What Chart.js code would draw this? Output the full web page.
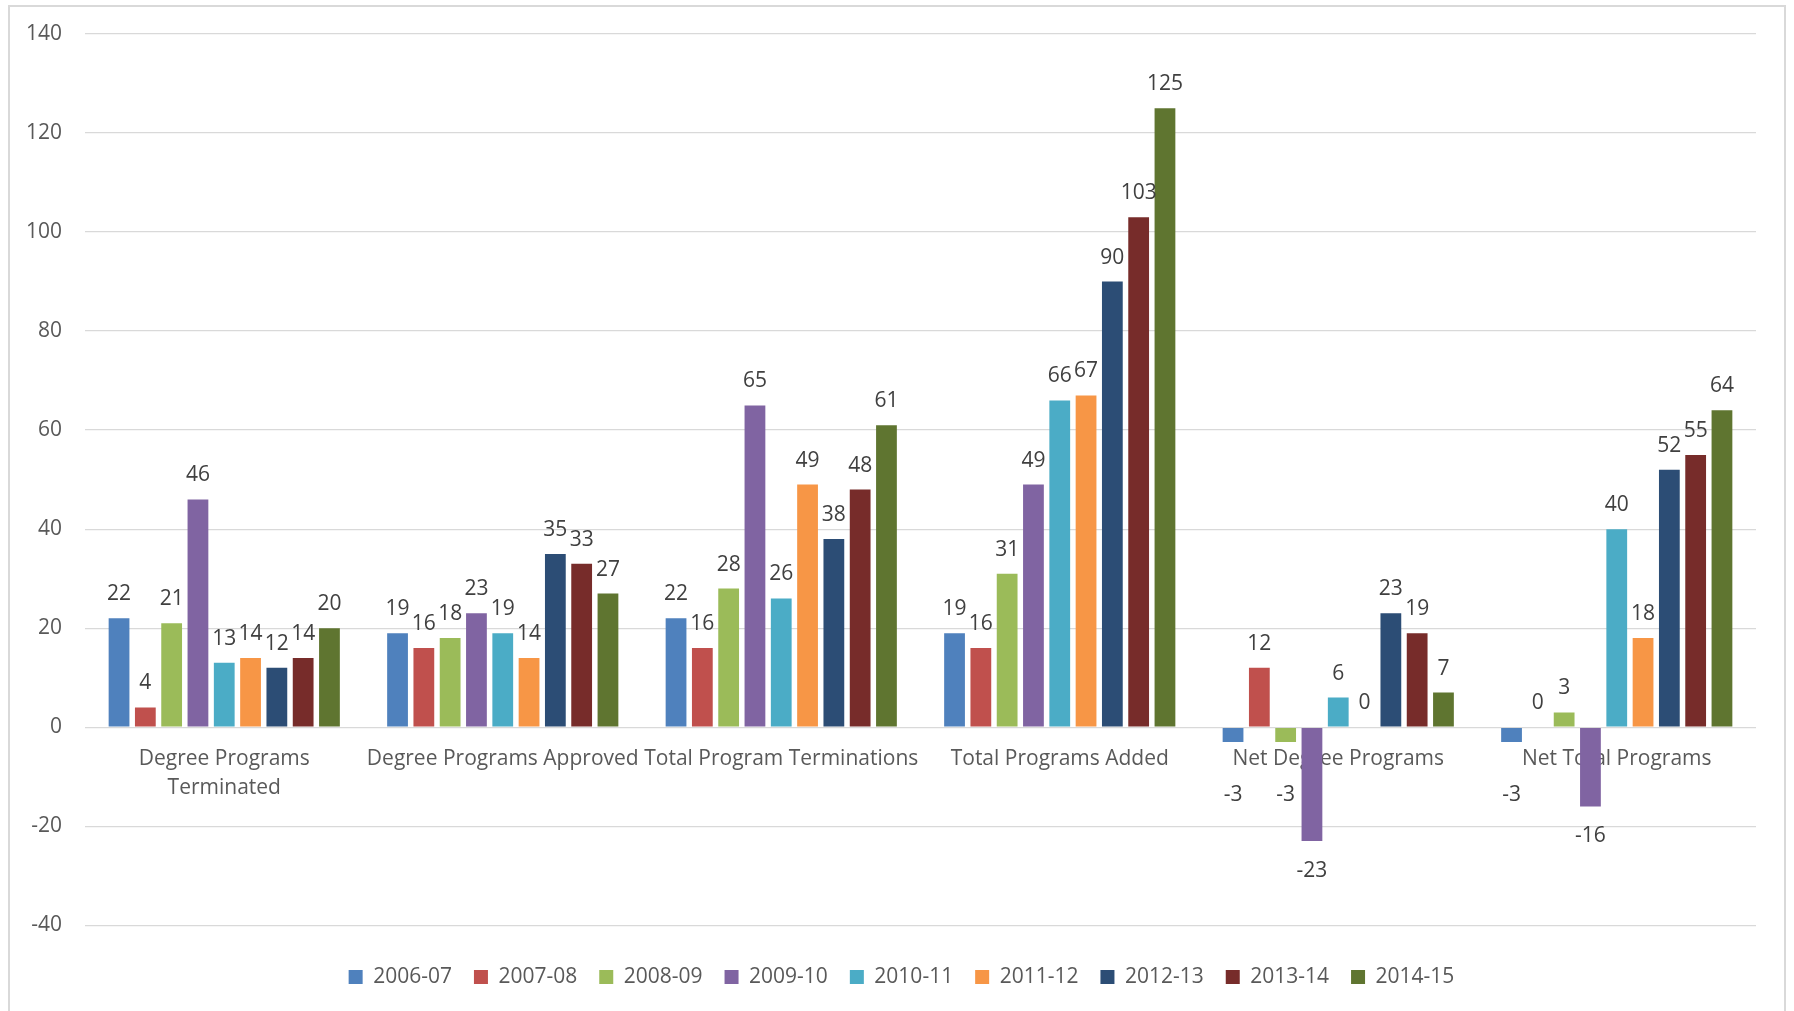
<!DOCTYPE html>
<html>
<head>
<meta charset="utf-8">
<script src="https://cdn.jsdelivr.net/npm/chart.js@4/dist/chart.umd.min.js"></script>
<style>
  html, body { margin: 0; padding: 0; background: #fff; }
  #wrap { position: relative; width: 1794px; height: 1011px; overflow: hidden; }
  #grafico { display: block; }
  /* marco gris alrededor del grafico, como en Excel */
  #marco { position: absolute; left: 8px; top: 5px; width: 1778px; height: 1100px; border: 2px solid #d9d9d9; box-sizing: border-box; pointer-events: none; }
</style>
</head>
<body>
<div id="wrap">
  <canvas id="grafico" width="1794" height="1011"></canvas>
  <div id="marco"></div>
</div>
<script>
// Categorias del eje X
var categorias = [["Degree Programs", "Terminated"], "Degree Programs Approved", "Total Program Terminations",
                  "Total Programs Added", "Net Degree Programs", "Net Total Programs"];

// Años (series)
var anios = ["2006-07", "2007-08", "2008-09", "2009-10", "2010-11", "2011-12", "2012-13", "2013-14", "2014-15"];

var colores = ["#4F81BD", "#C0504D", "#9BBB59", "#8064A2", "#4BACC6", "#F79646", "#2C4D75", "#772C2A", "#5F7530"];

// Valores de cada serie, en el orden de las categorias
var v2006_07 = [22, 19, 22, 19, -3, -3];
var v2007_08 = [4, 16, 16, 16, 12, 0];
var v2008_09 = [21, 18, 28, 31, -3, 3];
var v2009_10 = [46, 23, 65, 49, -23, -16];
var v2010_11 = [13, 19, 26, 66, 6, 40];
var v2011_12 = [14, 14, 49, 67, 0, 18];
var v2012_13 = [12, 35, 38, 90, 23, 52];
var v2013_14 = [14, 33, 48, 103, 19, 55];
var v2014_15 = [20, 27, 61, 125, 7, 64];

var series = [v2006_07, v2007_08, v2008_09, v2009_10, v2010_11, v2011_12, v2012_13, v2013_14, v2014_15];

// Eje Y
var ejeMin = -40;
var ejeMax = 140;
var ejePaso = 20;

var fuente = "'Open Sans', 'DejaVu Sans', sans-serif";

var datasets = [];
for (var i = 0; i < series.length; i++) {
    datasets.push({
        label: anios[i],
        data: series[i],
        backgroundColor: colores[i],
        borderWidth: 0,
        categoryPercentage: 0.85,
        barPercentage: 0.79
    });
}

// Plugin que escribe el valor encima (o debajo) de cada barra
var etiquetasDatos = {
    id: 'etiquetasDatos',
    afterDatasetsDraw: function(chart) {
        var ctx = chart.ctx;
        var cero = chart.scales.y.getPixelForValue(0);
        ctx.save();
        ctx.font = "21px " + fuente;
        ctx.fillStyle = "#404040";
        ctx.textAlign = "center";
        ctx.textBaseline = "middle";
        chart.data.datasets.forEach(function(ds, i) {
            var meta = chart.getDatasetMeta(i);
            meta.data.forEach(function(barra, j) {
                var v = ds.data[j];
                var y;
                if (v >= 0) {
                    y = barra.y - 24;
                } else {
                    y = Math.max(barra.y + 30, cero + 68);
                }
                ctx.fillText(String(v), barra.x, y);
            });
        });
        ctx.restore();
    }
};

var grafico = new Chart(document.getElementById("grafico"), {
    type: 'bar',
    data: {
        labels: categorias,
        datasets: datasets
    },
    plugins: [etiquetasDatos],
    options: {
        responsive: false,
        animation: false,
        devicePixelRatio: 1,
        layout: { padding: { left: 47, right: 38, top: 34, bottom: 13.5 } },
        plugins: {
            legend: {
                position: 'bottom',
                labels: {
                    boxWidth: 14,
                    boxHeight: 14,
                    padding: 22,
                    color: "#595959",
                    font: { family: fuente, size: 21 }
                },
                title: { display: true, text: '', font: { size: 1 }, padding: { top: 18, bottom: 0 } }
            },
            tooltip: { enabled: false }
        },
        scales: {
            x: {
                position: { y: 0 },
                grid: { display: false, drawTicks: false },
                border: { display: false },
                ticks: {
                    padding: 17,
                    maxRotation: 0,
                    minRotation: 0,
                    autoSkip: false,
                    color: "#595959",
                    font: { family: fuente, size: 21, lineHeight: 1.4 }
                },
                afterFit: function(s) { s.height = 0; }
            },
            y: {
                min: ejeMin,
                max: ejeMax,
                ticks: {
                    stepSize: ejePaso,
                    // etiquetas en modo mirror para que no se recorten; quedan alineadas a la derecha en x=62
                    mirror: true,
                    crossAlign: 'far',
                    padding: -59,
                    color: "#595959",
                    font: { family: fuente, size: 21 }
                },
                grid: { color: "#d9d9d9", lineWidth: 1.3, drawTicks: false },
                border: { display: false },
                afterFit: function(s) { s.width = 38; }
            }
        }
    }
});
</script>
</body>
</html>
